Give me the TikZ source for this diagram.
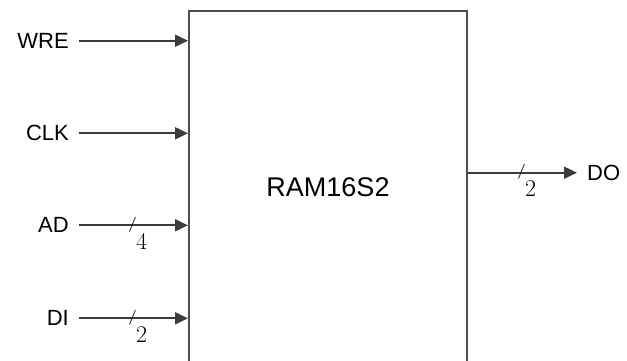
\documentclass[tikz,border=0pt]{standalone}
\usepackage{fontspec}
\setmainfont{Liberation Sans}
\usetikzlibrary{positioning,arrows.meta,calc}
\definecolor{pinink}{HTML}{3C3C3C}
\definecolor{blockgray}{HTML}{4D4D4D}
\newcommand{\lmr}{\fontfamily{lmr}\selectfont}
\tikzset{
  block/.style={draw=blockgray,line width=2pt,minimum width=278pt,minimum height=380pt,inner sep=0pt},
  title/.style={inner sep=0pt,font=\fontsize{27}{32}\selectfont},
  pin/.style={inner xsep=10pt,inner ysep=0pt,font=\fontsize{22}{26}\selectfont},
  arr/.style={-{Triangle[length=13pt,width=12pt]},line width=2pt,draw=pinink},
  busw/.style={inner sep=0pt,font=\lmr\fontsize{15}{15}\fontseries{bx}\selectfont},
  busn/.style={inner sep=0pt,anchor=north west,font=\lmr\fontsize{24}{24}\selectfont},
}
\begin{document}
\begin{tikzpicture}[x=1pt,y=-1pt]
  \clip (0,0) rectangle (627,360);
  \node[block] (ram) at (328,201) {};
  \node[title] (name) at (328,187) {RAM16S2};

  \node[pin,anchor=east] (wre) at (79,40.7) {WRE};
  \node[pin,anchor=east] (clk) at (79,133.3) {CLK};
  \node[pin,anchor=east] (ad) at (79,225.3) {AD};
  \node[pin,anchor=east] (di) at (79,318.3) {DI};
  \node[pin,anchor=west] (do) at (577,172.7) {DO};

  \draw[arr] (wre) -- (wre -| ram.west);
  \draw[arr] (clk) -- (clk -| ram.west);
  \draw[arr] (ad) -- (ad -| ram.west);
  \draw[arr] (di) -- (di -| ram.west);
  \draw[arr] (do -| ram.east) -- (do.west);

  % bus widths
  \node[busw] (adw) at (132.5,224.5) {/};
  \node[busn] (adn) at ([xshift=-1pt,yshift=-1pt]adw.south east) {4};
  \node[busw] (diw) at (132.5,317.5) {/};
  \node[busn] (din) at ([xshift=-1pt,yshift=-1pt]diw.south east) {2};
  \node[busw] (dow) at (521.5,172) {/};
  \node[busn] (don) at ([xshift=-1pt,yshift=-1pt]dow.south east) {2};
\end{tikzpicture}
\end{document}
